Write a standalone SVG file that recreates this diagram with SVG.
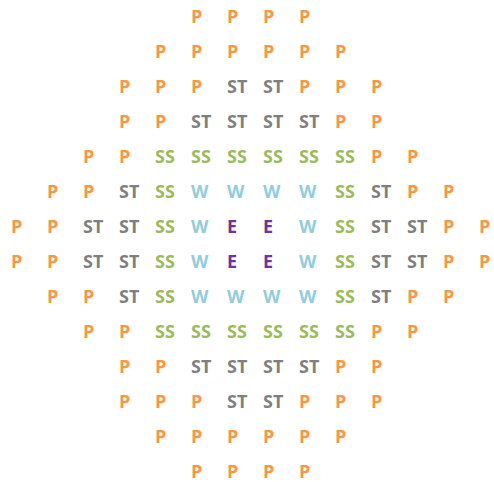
<svg xmlns="http://www.w3.org/2000/svg" width="494" height="482" viewBox="0 0 494 482">
<style>
text{font-family:"Open Sans","Noto Sans","Liberation Sans",sans-serif;font-weight:700;font-size:18px}
.P{fill:#F79646}.ST{fill:#7F7F7F}.SS{fill:#9BBB59}.W{fill:#92CDDC}.E{fill:#7030A0}
</style>
<rect width="494" height="482" fill="#fff"/>
<g id="r0"><text class="P" x="191" y="23">P</text><text class="P" x="227" y="23">P</text><text class="P" x="263" y="23">P</text><text class="P" x="299" y="23">P</text></g>
<g id="r1"><text class="P" x="155" y="58">P</text><text class="P" x="191" y="58">P</text><text class="P" x="227" y="58">P</text><text class="P" x="263" y="58">P</text><text class="P" x="299" y="58">P</text><text class="P" x="335" y="58">P</text></g>
<g id="r2"><text class="P" x="119" y="93">P</text><text class="P" x="155" y="93">P</text><text class="P" x="191" y="93">P</text><text class="ST" x="227" y="93">ST</text><text class="ST" x="263" y="93">ST</text><text class="P" x="299" y="93">P</text><text class="P" x="335" y="93">P</text><text class="P" x="371" y="93">P</text></g>
<g id="r3"><text class="P" x="119" y="128">P</text><text class="P" x="155" y="128">P</text><text class="ST" x="191" y="128">ST</text><text class="ST" x="227" y="128">ST</text><text class="ST" x="263" y="128">ST</text><text class="ST" x="299" y="128">ST</text><text class="P" x="335" y="128">P</text><text class="P" x="371" y="128">P</text></g>
<g id="r4"><text class="P" x="83" y="163">P</text><text class="P" x="119" y="163">P</text><text class="SS" x="155" y="163">SS</text><text class="SS" x="191" y="163">SS</text><text class="SS" x="227" y="163">SS</text><text class="SS" x="263" y="163">SS</text><text class="SS" x="299" y="163">SS</text><text class="SS" x="335" y="163">SS</text><text class="P" x="371" y="163">P</text><text class="P" x="407" y="163">P</text></g>
<g id="r5"><text class="P" x="47" y="198">P</text><text class="P" x="83" y="198">P</text><text class="ST" x="119" y="198">ST</text><text class="SS" x="155" y="198">SS</text><text class="W" x="191" y="198">W</text><text class="W" x="227" y="198">W</text><text class="W" x="263" y="198">W</text><text class="W" x="299" y="198">W</text><text class="SS" x="335" y="198">SS</text><text class="ST" x="371" y="198">ST</text><text class="P" x="407" y="198">P</text><text class="P" x="443" y="198">P</text></g>
<g id="r6"><text class="P" x="11" y="233">P</text><text class="P" x="47" y="233">P</text><text class="ST" x="83" y="233">ST</text><text class="ST" x="119" y="233">ST</text><text class="SS" x="155" y="233">SS</text><text class="W" x="191" y="233">W</text><text class="E" x="227" y="233">E</text><text class="E" x="263" y="233">E</text><text class="W" x="299" y="233">W</text><text class="SS" x="335" y="233">SS</text><text class="ST" x="371" y="233">ST</text><text class="ST" x="407" y="233">ST</text><text class="P" x="443" y="233">P</text><text class="P" x="479" y="233">P</text></g>
<g id="r7"><text class="P" x="11" y="268">P</text><text class="P" x="47" y="268">P</text><text class="ST" x="83" y="268">ST</text><text class="ST" x="119" y="268">ST</text><text class="SS" x="155" y="268">SS</text><text class="W" x="191" y="268">W</text><text class="E" x="227" y="268">E</text><text class="E" x="263" y="268">E</text><text class="W" x="299" y="268">W</text><text class="SS" x="335" y="268">SS</text><text class="ST" x="371" y="268">ST</text><text class="ST" x="407" y="268">ST</text><text class="P" x="443" y="268">P</text><text class="P" x="479" y="268">P</text></g>
<g id="r8"><text class="P" x="47" y="303">P</text><text class="P" x="83" y="303">P</text><text class="ST" x="119" y="303">ST</text><text class="SS" x="155" y="303">SS</text><text class="W" x="191" y="303">W</text><text class="W" x="227" y="303">W</text><text class="W" x="263" y="303">W</text><text class="W" x="299" y="303">W</text><text class="SS" x="335" y="303">SS</text><text class="ST" x="371" y="303">ST</text><text class="P" x="407" y="303">P</text><text class="P" x="443" y="303">P</text></g>
<g id="r9"><text class="P" x="83" y="338">P</text><text class="P" x="119" y="338">P</text><text class="SS" x="155" y="338">SS</text><text class="SS" x="191" y="338">SS</text><text class="SS" x="227" y="338">SS</text><text class="SS" x="263" y="338">SS</text><text class="SS" x="299" y="338">SS</text><text class="SS" x="335" y="338">SS</text><text class="P" x="371" y="338">P</text><text class="P" x="407" y="338">P</text></g>
<g id="r10"><text class="P" x="119" y="373">P</text><text class="P" x="155" y="373">P</text><text class="ST" x="191" y="373">ST</text><text class="ST" x="227" y="373">ST</text><text class="ST" x="263" y="373">ST</text><text class="ST" x="299" y="373">ST</text><text class="P" x="335" y="373">P</text><text class="P" x="371" y="373">P</text></g>
<g id="r11"><text class="P" x="119" y="408">P</text><text class="P" x="155" y="408">P</text><text class="P" x="191" y="408">P</text><text class="ST" x="227" y="408">ST</text><text class="ST" x="263" y="408">ST</text><text class="P" x="299" y="408">P</text><text class="P" x="335" y="408">P</text><text class="P" x="371" y="408">P</text></g>
<g id="r12"><text class="P" x="155" y="443">P</text><text class="P" x="191" y="443">P</text><text class="P" x="227" y="443">P</text><text class="P" x="263" y="443">P</text><text class="P" x="299" y="443">P</text><text class="P" x="335" y="443">P</text></g>
<g id="r13"><text class="P" x="191" y="478">P</text><text class="P" x="227" y="478">P</text><text class="P" x="263" y="478">P</text><text class="P" x="299" y="478">P</text></g>
</svg>
